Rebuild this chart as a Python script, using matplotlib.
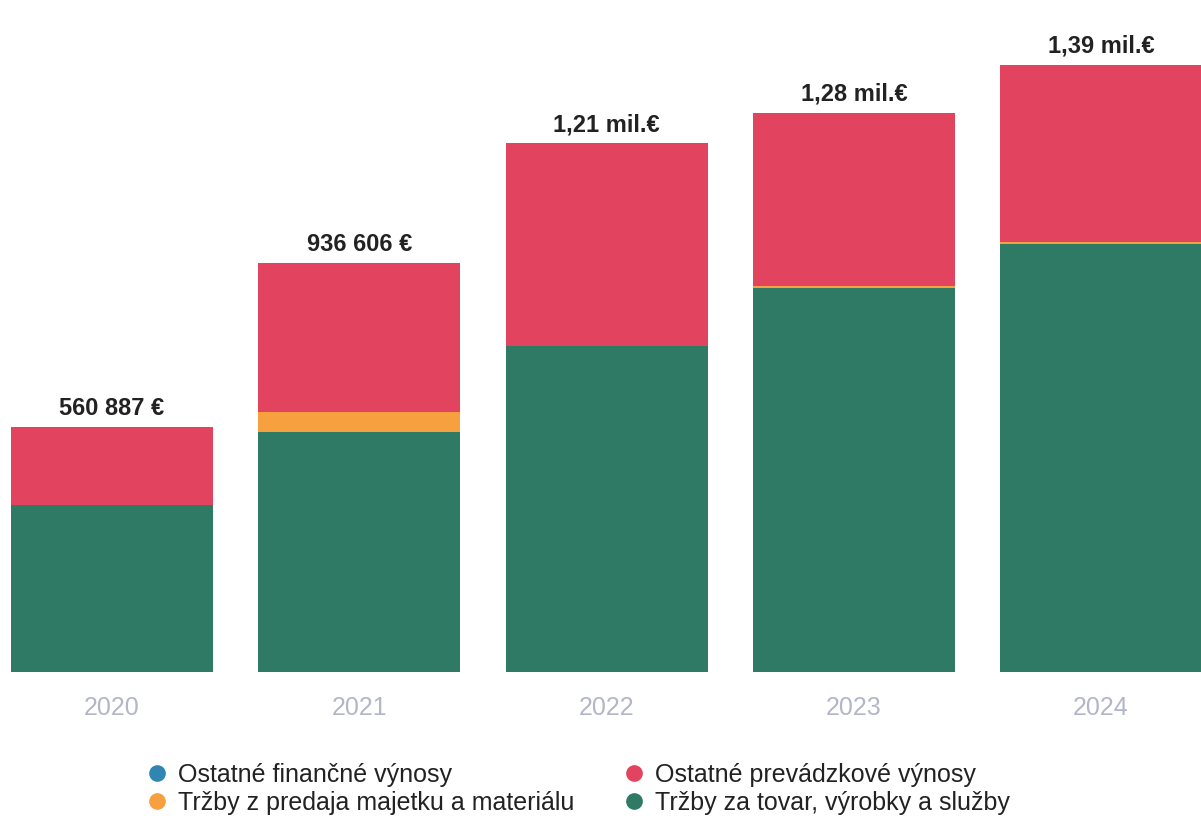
import numpy as np
import matplotlib.pyplot as plt
from matplotlib.lines import Line2D

plt.rcParams['font.family'] = ['Liberation Sans', 'DejaVu Sans']

# data
roky = ["2020", "2021", "2022", "2023", "2024"]
trzby_tovar = [382300, 549400, 746300, 879000, 980000]
trzby_majetok = [0, 45800, 0, 4000, 4000]
ostatne_prevadzkove = [178587, 341406, 463700, 397000, 406000]
ostatne_financne = [0, 0, 0, 0, 0]
popisky = ["560 887 €", "936 606 €", "1,21 mil.€", "1,28 mil.€", "1,39 mil.€"]

farby = {
    "fin": "#2f86b3",
    "prev": "#e2445f",
    "maj": "#f7a03f",
    "tovar": "#2e7a64",
}

fig = plt.figure(figsize=(12.01, 8.18), dpi=100)
ax = fig.add_axes([0, 146 / 818, 1, 672 / 818])

x = np.arange(len(roky))
w = 0.817
spodok = np.zeros(len(roky))
for hodnoty, farba in [(trzby_tovar, farby["tovar"]), (trzby_majetok, farby["maj"]),
                       (ostatne_prevadzkove, farby["prev"]), (ostatne_financne, farby["fin"])]:
    ax.bar(x, hodnoty, w, bottom=spodok, color=farba, linewidth=0)
    spodok = spodok + np.array(hodnoty)

for xi, vyska, txt in zip(x, spodok, popisky):
    ax.annotate(txt, (xi, vyska), xytext=(0, 13.5), textcoords="offset points",
                ha="center", va="center", fontsize=17, fontweight="bold", color="#222222")

ax.set_xlim(-0.453, 4.404)
ax.set_ylim(0, 1538500)
ax.axis("off")

for xi, r in zip(x, roky):
    ax.annotate(r, (xi, 0), xytext=(0, -26), textcoords="offset points",
                ha="center", va="center", fontsize=18, color="#b3b6c9")

handles = [
    Line2D([], [], marker="o", linestyle="", color=farby["fin"], markersize=11),
    Line2D([], [], marker="o", linestyle="", color=farby["maj"], markersize=11),
    Line2D([], [], marker="o", linestyle="", color=farby["prev"], markersize=11),
    Line2D([], [], marker="o", linestyle="", color=farby["tovar"], markersize=11),
]
labels = ["Ostatné finančné výnosy", "Tržby z predaja majetku a materiálu",
          "Ostatné prevádzkové výnosy", "Tržby za tovar, výrobky a služby"]
fig.legend(handles, labels, ncol=2, frameon=False, fontsize=18,
           loc="upper left", bbox_to_anchor=(147 / 1201, 1 - 763 / 818),
           handlelength=0.8, handletextpad=0.44, columnspacing=1.98,
           labelspacing=0.15, borderaxespad=0, borderpad=0, labelcolor="#222222")

fig.savefig("out.png", dpi=100)
